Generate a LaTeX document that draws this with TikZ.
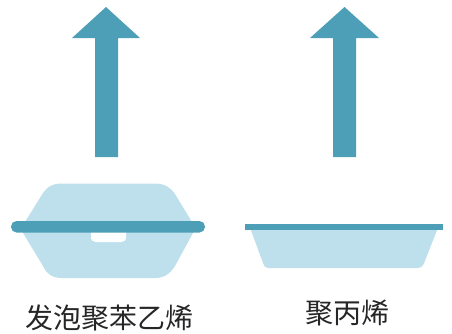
\documentclass[tikz,border=0pt]{standalone}
\usepackage{fontspec}
\newfontfamily\cjk{Noto Sans CJK SC}[Scale=1]
\definecolor{darkteal}{HTML}{4D9FB8}
\definecolor{lightblue}{HTML}{BEDFEC}
\tikzset{
  darkfill/.style={fill=darkteal,draw=none},
  lightfill/.style={fill=lightblue,draw=none},
  label/.style={inner sep=0pt,font=\cjk\fontsize{28}{28}\selectfont,text=black!85}
}
\begin{document}
\begin{tikzpicture}[x=1pt,y=-1pt]
\useasboundingbox (0,0) rectangle (452,333);
% arrows
\fill[darkfill] (106,7) -- (140,38) -- (118,38) -- (118,157) -- (95,157) -- (95,38) -- (72,38) -- cycle;
\fill[darkfill] (344.5,7) -- (379,38) -- (356,38) -- (356,157) -- (333,157) -- (333,38) -- (310,38) -- cycle;
% foam box
\fill[lightfill] (62,183.5) -- (155,183.5) .. controls (165,183.5) and (171,188) .. (175,194)
  -- (192,222) -- (193,233) -- (175,266) .. controls (170,274) and (164,278) .. (155,278)
  -- (62,278) .. controls (52,278) and (47,274) .. (43,266) -- (23,233) -- (25,222) -- (43,193)
  .. controls (47,187) and (52,183.5) .. (62,183.5) -- cycle;
\fill[white] (91,230) -- (126,230) -- (126,237) .. controls (126,240.5) and (124,242) .. (121,242)
  -- (96,242) .. controls (93,242) and (91,240.5) .. (91,237) -- cycle;
\fill[darkfill,rounded corners=5.5pt] (11,221) rectangle (205,232.5);
% tray
\fill[lightfill] (250.5,229) -- (437.5,229) -- (424.5,262) .. controls (423,266) and (421,268) .. (417,268)
  -- (268,268) .. controls (265,268) and (264,266) .. (263,263) -- cycle;
\fill[darkfill] (245,223.5) rectangle (442.5,230);
% labels
\node[label] (foam) at (109,317.5) {发泡聚苯乙烯};
\node[label] (pp) at (347.5,313) {聚丙烯};
\end{tikzpicture}
\end{document}
